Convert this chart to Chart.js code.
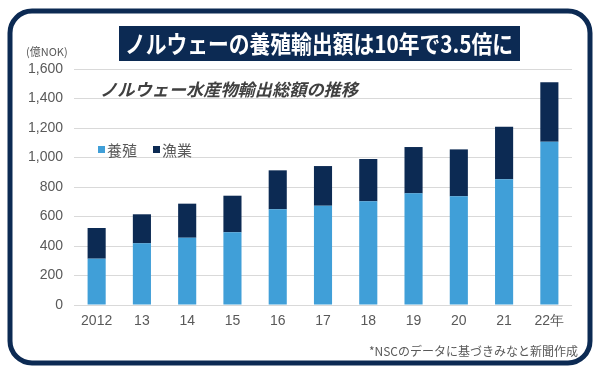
<!DOCTYPE html>
<html>
<head>
<meta charset="utf-8">
<script src="https://cdn.jsdelivr.net/npm/chart.js@4/dist/chart.umd.min.js"></script>
<style>
  html, body { margin: 0; padding: 0; background: #fff; }
  canvas { display: block; }
</style>
</head>
<body>
<canvas id="chart" width="600" height="368"></canvas>
<script>
// values (億NOK)
var years = ['2012', '13', '14', '15', '16', '17', '18', '19', '20', '21', '22年'];
var aquaculture = [314, 418, 456, 493, 649, 673, 703, 757, 737, 852, 1107];
var fishery = [208, 197, 231, 248, 264, 269, 287, 314, 318, 357, 403];
var yTicks = [0, 200, 400, 600, 800, 1000, 1200, 1400, 1600];

var navy = '#0c2a53';
var lightBlue = '#409fd8';
var grey = '#595959';
var jp = '"Noto Sans CJK JP", "Noto Sans", sans-serif';

// frame, headline, subtitle, legend, footnote
var decor = {
  id: 'decor',
  beforeDraw: function (chart) {
    var ctx = chart.ctx;
    ctx.save();
    ctx.fillStyle = '#fff';
    ctx.fillRect(0, 0, chart.width, chart.height);
    ctx.restore();
  },
  afterDraw: function (chart) {
    var ctx = chart.ctx;
    ctx.save();

    // rounded frame
    ctx.strokeStyle = navy;
    ctx.lineWidth = 5;
    ctx.beginPath();
    ctx.roundRect(10, 11, 580, 352, 22);
    ctx.stroke();

    // headline box
    ctx.fillStyle = navy;
    ctx.fillRect(119, 26, 401, 35);
    ctx.fillStyle = '#fff';
    ctx.font = 'bold 24px ' + jp;
    ctx.textBaseline = 'middle';
    var head = 'ノルウェーの養殖輸出額は10年で3.5倍に';
    var w = ctx.measureText(head).width;
    ctx.save();
    ctx.translate(125, 44);
    ctx.scale(388 / w, 1);
    ctx.fillText(head, 0, 0);
    ctx.restore();

    // subtitle
    ctx.fillStyle = '#404040';
    ctx.font = 'italic bold 17px ' + jp;
    var sub = 'ノルウェー水産物輸出総額の推移';
    var sw = ctx.measureText(sub).width;
    ctx.save();
    ctx.translate(100, 90);
    ctx.scale(258 / sw, 1);
    ctx.fillText(sub, 0, 0);
    ctx.restore();

    // unit
    ctx.fillStyle = grey;
    ctx.font = '11px ' + jp;
    ctx.fillText('(億NOK)', 26, 52);

    // legend
    var ds = chart.data.datasets;
    ctx.font = '15px ' + jp;
    var x = 98;
    for (var i = 0; i < ds.length; i++) {
      ctx.fillStyle = ds[i].backgroundColor;
      ctx.fillRect(x, 146, 7, 7);
      ctx.fillStyle = grey;
      ctx.fillText(ds[i].label, x + 9, 150);
      x += 55;
    }

    // footnote
    ctx.font = '12px ' + jp;
    ctx.textAlign = 'right';
    ctx.fillText('*NSCのデータに基づきみなと新聞作成', 578, 351);

    ctx.restore();
  }
};

new Chart(document.getElementById('chart'), {
  type: 'bar',
  data: {
    labels: years,
    datasets: [
      { label: '養殖', data: aquaculture, backgroundColor: lightBlue },
      { label: '漁業', data: fishery, backgroundColor: navy }
    ]
  },
  options: {
    responsive: false,
    animation: false,
    devicePixelRatio: 1,
    layout: { padding: { left: 0, right: 28, top: 69, bottom: 33 } },
    plugins: {
      legend: { display: false },
      title: { display: false },
      tooltip: { enabled: false }
    },
    datasets: {
      bar: { barPercentage: 0.4, categoryPercentage: 1.0 }
    },
    scales: {
      x: {
        stacked: true,
        grid: { display: false, drawTicks: false },
        border: { display: false },
        ticks: { color: grey, font: { size: 14, family: '"Liberation Sans", Arial, sans-serif' }, padding: 8, maxRotation: 0 },
        afterFit: function (s) { s.height = 30; }
      },
      y: {
        stacked: true,
        min: 0,
        max: 1600,
        afterBuildTicks: function (s) { s.ticks = yTicks.map(function (v) { return { value: v }; }); },
        grid: { color: '#d9d9d9', lineWidth: 1, drawTicks: false },
        border: { display: false },
        ticks: {
          color: grey,
          font: { size: 14, family: '"Liberation Sans", Arial, sans-serif' },
          padding: 11,
          callback: function (v) { return v.toLocaleString('en-US'); }
        },
        afterFit: function (s) { s.width = 74; }
      }
    }
  },
  plugins: [decor]
});
</script>
</body>
</html>
